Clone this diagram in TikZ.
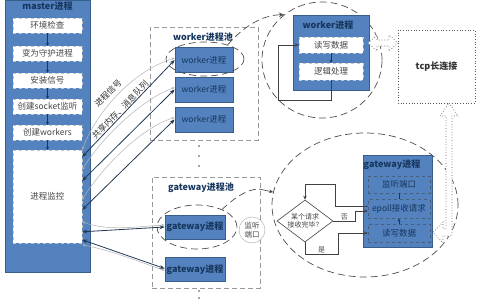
\documentclass[tikz,border=0pt]{standalone}
\usepackage{fontspec}
\setmainfont{Noto Sans CJK SC}
\usetikzlibrary{shapes.geometric,arrows.meta,calc}
\definecolor{myblue}{RGB}{84,130,190}
\definecolor{myborder}{RGB}{56,93,138}
\definecolor{navy}{RGB}{23,55,94}
\definecolor{txtgray}{RGB}{70,70,70}
\begin{document}
\begin{tikzpicture}[x=1pt,y=-1pt,
  bluebg/.style={fill=myblue,draw=myborder,line width=0.8pt,inner sep=0pt},
  mbox/.style={fill=white,draw=gray!45,dashed,minimum width=69pt,minimum height=15pt,inner sep=0pt,font=\fontsize{8.5}{10}\selectfont,text=txtgray},
  wbox/.style={bluebg,minimum width=58pt,minimum height=25pt,font=\fontsize{8.5}{10}\selectfont,text=navy},
  gbox/.style={bluebg,minimum width=60pt,minimum height=24pt,font=\bfseries\fontsize{9}{10}\selectfont,text=navy},
  ttl/.style={font=\bfseries\fontsize{9}{10}\selectfont,text=navy,inner sep=0pt},
  pool/.style={draw=gray!80,dash pattern=on 5pt off 3pt,line width=0.8pt,inner sep=0pt},
  ring/.style={ellipse,draw=black!70,dash pattern=on 7pt off 4pt,line width=0.7pt,inner sep=0pt},
  dline/.style={draw=black!70,dash pattern=on 7pt off 4pt,line width=0.7pt,-{Stealth[length=5pt,width=4.5pt]}},
  dbox/.style={fill=white,draw=gray!45,dashed,minimum width=64pt,inner sep=0pt,font=\fontsize{8.5}{10}\selectfont,text=txtgray},
  gin/.style={fill=myblue,draw=navy!80,dashed,minimum width=62pt,inner sep=0pt,font=\fontsize{8.5}{10}\selectfont,text=navy},
  flow/.style={draw=black!75,line width=0.6pt,-{Stealth[length=4pt,width=3.5pt]}},
  marrow/.style={draw=navy,line width=0.6pt,-{Stealth[length=3pt,width=3pt]}},
  link/.style={draw=myborder!60!black,line width=0.8pt,{Stealth[length=5pt,width=4pt]}-{Stealth[length=5pt,width=4pt]}},
  glink/.style={draw=gray!60,line width=0.5pt,{Stealth[length=3pt,width=2.5pt]}-{Stealth[length=3pt,width=2.5pt]}},
  lbl/.style={font=\fontsize{8.5}{9}\selectfont,text=black!80,inner sep=0pt},
  small/.style={font=\fontsize{7}{8.5}\selectfont,text=txtgray,inner sep=1pt},
  hollow/.style={draw=black!65,dotted,line width=0.7pt,fill=white},
  dotmark/.style={circle,fill=black!70,inner sep=0pt,minimum size=1.6pt}
]
\useasboundingbox (0,0) rectangle (480,300);

% master column
\node[bluebg,minimum width=85pt,minimum height=272pt] (master) at (47.5,136) {};
\node[ttl] (mtitle) at (47.5,6) {master进程};
\node[mbox] (m1) at (47.5,25.5) {环境检查};
\node[mbox] (m2) at (47.5,53.5) {变为守护进程};
\node[mbox] (m3) at (47.5,80.5) {安装信号};
\node[mbox] (m4) at (47.5,106.5) {创建socket监听};
\node[mbox] (m5) at (47.5,132.5) {创建workers};
\node[mbox,minimum height=93pt] (m6) at (47.5,196.5) {进程监控};
\foreach \a/\b in {m1/m2,m2/m3,m3/m4,m4/m5,m5/m6} \draw[marrow] (\a) -- (\b);

% worker pool
\node[pool,minimum width=108pt,minimum height=113pt] (wpool) at (204,83.5) {};
\node[ttl] (wptitle) at (203,37) {worker进程池};
\node[wbox] (w1) at (204,60) {worker进程};
\node[wbox] (w2) at (204,89.5) {worker进程};
\node[wbox] (w3) at (204,119.5) {worker进程};
\node[ring,minimum width=78pt,minimum height=34pt] (we) at (205,59) {};

% dots
\foreach \y in {146,156,166,291,298} \node[dotmark] at (199,\y) {};

% gateway pool
\node[pool,minimum width=108pt,minimum height=111pt] (gpool) at (206,232.5) {};
\node[ttl] (gptitle) at (201,188) {gateway进程池};
\node[gbox] (g1) at (195,227) {gateway进程};
\node[gbox] (g2) at (195,269.5) {gateway进程};
\node[ring,minimum width=80pt,minimum height=44pt] (ge) at (197,227) {};
\node[circle,draw=gray!70,fill=white,minimum size=26pt,inner sep=0pt,align=center,font=\fontsize{7.5}{8.5}\selectfont,text=txtgray] (lc) at (252,230) {监听\\端口};

% worker detail
\node[ring,minimum width=120pt,minimum height=116pt] (bigw) at (322,60) {};
\node[bluebg,minimum width=76pt,minimum height=75pt] (wd) at (331,52.5) {};
\node[ttl] (wdtitle) at (328,25) {worker进程};
\node[dbox,minimum height=16pt] (rw) at (331,45) {读写数据};
\node[dbox,minimum height=17pt] (lg) at (331,71.5) {逻辑处理};
\draw[marrow] (rw) -- (lg);
\draw[flow] (lg.south) |- (278,100) |- (rw.west);
\draw[dline] (we.32) .. controls (243,27) and (262,15) .. (bigw.130);

% tcp box
\node[draw=black!65,dotted,line width=0.7pt,minimum width=77pt,minimum height=73pt,inner sep=0pt,font=\bfseries\fontsize{9}{10}\selectfont,text=black!80] (tcp) at (436.5,66.5) {tcp长连接};
\draw[hollow] (368,43) -- (377,35) -- (377,40) -- (389,40) -- (389,35) -- (398,43) -- (389,51) -- (389,46) -- (377,46) -- (377,51) -- cycle;

% gateway detail
\node[ring,minimum width=186pt,minimum height=144pt] (bigg) at (365,205) {};
\node[bluebg,minimum width=69pt,minimum height=92pt] (gd) at (397.5,201) {};
\node[ttl] (gdtitle) at (392,165) {gateway进程};
\node[gin,minimum height=17pt] (lis) at (399,184.5) {监听端口};
\node[gin,minimum height=19pt] (ep) at (399,209) {epoll接收请求};
\node[gin,minimum height=18pt] (rw2) at (399,233) {读写数据};
\draw[draw=navy,line width=0.6pt] (lis) -- (ep);
\draw[marrow] (rw2) -- (ep);
\draw[hollow] (449,103) -- (458,116) -- (452,116) -- (452,236) -- (443,236) -- (443,243) -- (433,232.5) -- (443,222) -- (443,229) -- (446,229) -- (446,116) -- (440,116) -- cycle;

\node[diamond,aspect=1.35,draw=black!75,fill=white,line width=0.6pt,minimum width=56pt,minimum height=42pt,inner sep=0pt,align=center,font=\fontsize{7}{8.5}\selectfont,text=txtgray] (dia) at (305,221) {某个请求\\接收完毕？};
\draw[flow] ([yshift=3pt]ep.west) -| (335,184) -| (dia.north);
\draw[flow] (dia.east) -- ++(22,0) node[pos=0.5,above,small] {否} |- ([yshift=-2pt]ep.west);
\draw[flow] (dia.south) |- (338,254) node[pos=0.75,above,small] {是} |- (rw2.west);

\coordinate (gj) at (259,189);
\draw[dline,-] (ge.35) .. controls (232,200) and (246,189) .. (gj);
\draw[flow] (gj) -- (bigg.172);

% master links
\draw[glink] (m6.north east) .. controls (95,115) and (130,72) .. ([yshift=2pt]w1.west);
\draw[link] ($(m6.north east)+(0,7)$) -- (w1.west);
\draw[glink] ($(m6.north east)+(0,20)$) .. controls (100,140) and (140,100) .. ([yshift=2pt]w2.west);
\draw[link] ($(m6.north east)+(0,31)$) -- (w2.west);
\draw[glink] ($(m6.north east)+(0,50)$) .. controls (100,170) and (140,128) .. ([yshift=2pt]w3.west);
\draw[link] ($(m6.north east)+(0,60)$) -- (w3.west);
\draw[glink] ($(m6.north east)+(0,72)$) .. controls (110,232) and (140,226) .. ([yshift=2pt]g1.west);
\draw[link] ($(m6.north east)+(0,82)$) -- (g1.west);
\draw[glink] ($(m6.north east)+(0,95)$) .. controls (110,250) and (140,262) .. ([yshift=-1pt]g2.west);
\draw[link] ($(m6.north east)+(0,90)$) -- ([yshift=1pt]g2.west);
\node[lbl,rotate=44] (l1) at (108,93) {进程信号};
\node[lbl,rotate=46] (l2) at (120,110) {共享内存、消息队列};
\end{tikzpicture}
\end{document}
